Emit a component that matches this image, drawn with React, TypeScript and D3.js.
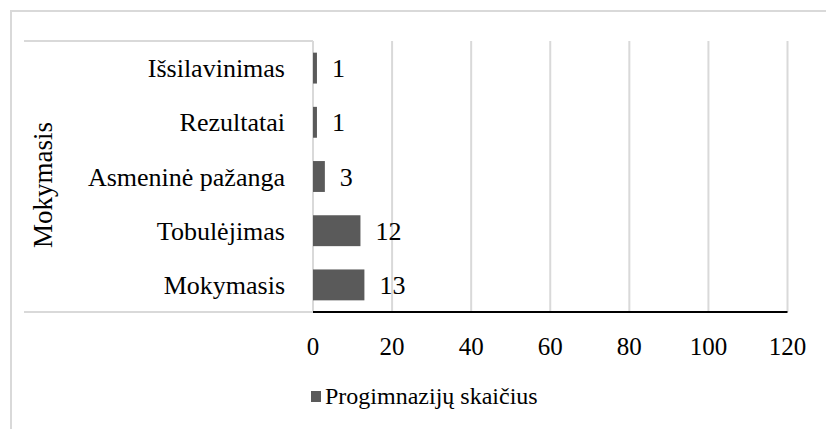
import React from "react";
import * as d3 from "d3";

const categories = ["Išsilavinimas", "Rezultatai", "Asmeninė pažanga", "Tobulėjimas", "Mokymasis"];
const values = [1, 1, 3, 12, 13];
const xTicks = [0, 20, 40, 60, 80, 100, 120];
const seriesName = "Progimnazijų skaičius";
const axisTitle = "Mokymasis";

const W = 826;
const H = 429;
const FONT = '"Liberation Serif", "Times New Roman", Tinos, "DejaVu Serif", serif';
const GRID = "#d9d9d9";
const BAR = "#5a5a5a";

export default function App() {
  const plotLeft = 313;
  const plotRight = 787.5;
  const plotTop = 41;
  const plotBottom = 312;

  const x = d3.scaleLinear().domain([0, 120]).range([plotLeft, plotRight]);
  const y = d3
    .scaleBand<string>()
    .domain(categories)
    .range([plotTop, plotBottom])
    .paddingInner(0.43)
    .paddingOuter(0.215);

  const ts = { fontFamily: FONT };

  return (
    <svg
      width={W}
      height={H}
      style={{ position: "absolute", left: 0, top: 0, background: "#fff", fontFamily: FONT }}
    >
      <rect x={0} y={0} width={W} height={H} fill="#fff" />
      <rect x={11} y={11} width={W + 20} height={H + 20} fill="none" stroke={GRID} strokeWidth={2} />
      <line x1={24} x2={plotLeft} y1={plotTop} y2={plotTop} stroke={GRID} strokeWidth={2} />
      <line x1={24} x2={plotLeft} y1={plotBottom} y2={plotBottom} stroke={GRID} strokeWidth={2} />
      {xTicks.map((t) => (
        <line key={t} x1={x(t)} x2={x(t)} y1={plotTop} y2={plotBottom} stroke={GRID} strokeWidth={2} />
      ))}
      {categories.map((c, i) => (
        <rect
          key={c}
          x={x(0)}
          y={y(c)!}
          width={x(values[i]) - x(0)}
          height={y.bandwidth()}
          fill={BAR}
        />
      ))}
      {categories.map((c, i) => (
        <text
          key={c}
          x={x(values[i]) + 15}
          y={y(c)! + y.bandwidth() / 2 + 9}
          fontSize={26}
          fill="#000"
          style={ts}
        >
          {values[i]}
        </text>
      ))}
      {categories.map((c) => (
        <text
          key={c}
          x={285}
          y={y(c)! + y.bandwidth() / 2 + 9}
          fontSize={26}
          textAnchor="end"
          fill="#000"
          style={ts}
        >
          {c}
        </text>
      ))}
      <line x1={plotLeft} x2={plotRight} y1={plotBottom} y2={plotBottom} stroke="#000" strokeWidth={2} />
      {xTicks.map((t) => (
        <text key={t} x={x(t)} y={355} fontSize={25} textAnchor="middle" fill="#000" style={ts}>
          {t}
        </text>
      ))}
      <text
        transform={`translate(51.5,185) rotate(-90)`}
        fontSize={27}
        textAnchor="middle"
        fill="#000"
        style={ts}
      >
        {axisTitle}
      </text>
      <rect x={311} y={391} width={10} height={11} fill={BAR} />
      <text x={325} y={404} fontSize={24} fill="#000" style={ts}>
        {seriesName}
      </text>
    </svg>
  );
}
